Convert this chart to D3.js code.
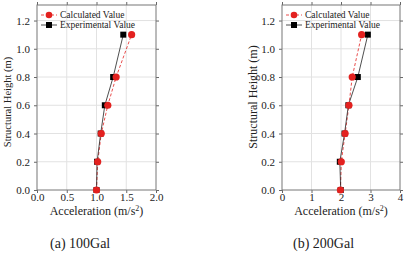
<html>
<head>
<meta charset="utf-8" />
<script src="https://cdn.jsdelivr.net/npm/d3@7"></script>
<style type="text/css">
	body{ margin:0; background:#fff; }
	svg text{ font-family:"Liberation Serif","Times New Roman",serif !important; fill:#222; }
</style>
</head>
<body>
<svg id="chart" width="409" height="259"></svg>

<script type="text/javascript">
	// heights (m)
	var heights = [0.0, 0.2, 0.4, 0.6, 0.8, 1.1];
	var yTicks = [0.0, 0.2, 0.4, 0.6, 0.8, 1.0, 1.2];

	// (a) 100Gal
	var calc100 = [1.00, 1.02, 1.08, 1.19, 1.33, 1.59];
	var exp100 = [1.00, 1.01, 1.07, 1.14, 1.28, 1.45];
	var xTicks100 = [0.0, 0.5, 1.0, 1.5, 2.0];

	// (b) 200Gal
	var calc200 = [1.98, 2.01, 2.14, 2.27, 2.38, 2.70];
	var exp200 = [1.99, 1.96, 2.12, 2.25, 2.57, 2.91];
	var xTicks200 = [0, 1, 2, 3, 4];

	var legendNames = ["Calculated Value", "Experimental Value"];
	var red = "#e3211f";

	var svg = d3.select("#chart");

	function panel(opt){
		var x = d3.scaleLinear().domain(opt.xDomain).range([opt.left, opt.right]);
		var y = d3.scaleLinear().domain([0, 1.31]).range([190, 5]);
		var g = svg.append("g");

		// grid
		g.selectAll(".gx").data(opt.xTicks.slice(1, -1)).enter().append("line")
			.attr("x1", function(d){ return x(d); }).attr("x2", function(d){ return x(d); })
			.attr("y1", y(0)).attr("y2", 5)
			.attr("stroke", "#e2e2e2").attr("stroke-width", 1);
		g.selectAll(".gy").data(yTicks.slice(1)).enter().append("line")
			.attr("y1", function(d){ return y(d); }).attr("y2", function(d){ return y(d); })
			.attr("x1", opt.left).attr("x2", opt.right)
			.attr("stroke", "#e2e2e2").attr("stroke-width", 1);

		// axes
		var ax = g.append("g").attr("transform", "translate(0,190)")
			.call(d3.axisBottom(x).tickValues(opt.xTicks).tickFormat(d3.format(opt.xFmt)).tickSizeInner(3).tickSizeOuter(0));
		var ay = g.append("g").attr("transform", "translate(" + opt.left + ",0)")
			.call(d3.axisLeft(y).tickValues(yTicks).tickFormat(d3.format(".1f")).tickSizeInner(3).tickSizeOuter(0));
		g.append("g").attr("transform", "translate(0,5)")
			.call(d3.axisTop(x).tickValues(opt.xTicks).tickFormat("").tickSizeInner(3).tickSizeOuter(0));
		g.append("g").attr("transform", "translate(" + opt.right + ",0)")
			.call(d3.axisRight(y).tickValues(yTicks).tickFormat("").tickSizeInner(3).tickSizeOuter(0));
		g.selectAll(".domain").remove();
		g.selectAll(".tick line").attr("stroke", "#666");
		[ax, ay].forEach(function(a){
			a.selectAll("text").attr("font-size", 11).attr("fill", "#222");
		});
		ax.selectAll("text").attr("y", 11).attr("dy", 0);
		ay.selectAll("text").attr("dx", "-1px");

		g.append("rect").attr("x", opt.left).attr("y", 5)
			.attr("width", opt.right - opt.left).attr("height", 185)
			.attr("fill", "none").attr("stroke", "#777").attr("stroke-width", 1);

		// lines
		var line = d3.line()
			.x(function(d){ return x(d[0]); })
			.y(function(d){ return y(d[1]); });
		var cPts = d3.zip(opt.calc, heights);
		var ePts = d3.zip(opt.exp, heights);
		g.append("path").datum(cPts).attr("d", line)
			.attr("fill", "none").attr("stroke", red).attr("stroke-width", 0.8).attr("stroke-dasharray", "3,2");
		g.append("path").datum(ePts).attr("d", line)
			.attr("fill", "none").attr("stroke", "#222").attr("stroke-width", 0.8);

		g.selectAll(".sq").data(ePts).enter().append("rect")
			.attr("x", function(d){ return x(d[0]) - 3; })
			.attr("y", function(d){ return y(d[1]) - 3; })
			.attr("width", 6).attr("height", 6).attr("fill", "#000");
		g.selectAll(".ci").data(cPts).enter().append("circle")
			.attr("cx", function(d){ return x(d[0]); })
			.attr("cy", function(d){ return y(d[1]); })
			.attr("r", 3.6).attr("fill", red);

		// legend
		var lx = opt.left + 4;
		g.append("line").attr("x1", lx).attr("x2", lx + 16).attr("y1", 15).attr("y2", 15)
			.attr("stroke", red).attr("stroke-width", 0.8).attr("stroke-dasharray", "3,2");
		g.append("circle").attr("cx", lx + 8).attr("cy", 15).attr("r", 3.3).attr("fill", red);
		g.append("line").attr("x1", lx).attr("x2", lx + 16).attr("y1", 25).attr("y2", 25)
			.attr("stroke", "#222").attr("stroke-width", 0.8);
		g.append("rect").attr("x", lx + 5).attr("y", 22).attr("width", 6).attr("height", 6).attr("fill", "#000");
		g.selectAll(".lg").data(legendNames).enter().append("text")
			.attr("x", lx + 19).attr("y", function(d, i){ return 15 + i * 10; })
			.attr("dy", "0.33em").attr("font-size", 9.5)
			.text(function(d){ return d; });

		// titles
		var xt = g.append("text").attr("x", (opt.left + opt.right) / 2).attr("y", 215)
			.attr("text-anchor", "middle").attr("font-size", 12);
		xt.append("tspan").text("Acceleration (m/s");
		xt.append("tspan").attr("baseline-shift", "super").attr("font-size", 8).text("2");
		xt.append("tspan").text(")");

		g.append("text")
			.attr("transform", "translate(" + opt.ytX + "," + opt.ytY + ") rotate(-90)")
			.attr("text-anchor", "middle").attr("dy", "0.35em")
			.attr("font-size", opt.ytSize)
			.text("Structural Height (m)");

		g.append("text").attr("x", opt.capX).attr("y", 248)
			.attr("font-size", 14).attr("fill", "#111")
			.text(opt.caption);
	}

	panel({ left:37, right:156, xDomain:[0, 2], xTicks:xTicks100, xFmt:".1f",
		calc:calc100, exp:exp100, ytX:7, ytY:102, ytSize:10.5, capX:50, caption:"(a) 100Gal" });
	panel({ left:282, right:400, xDomain:[0, 4], xTicks:xTicks200, xFmt:"d",
		calc:calc200, exp:exp200, ytX:253, ytY:97, ytSize:12, capX:293, caption:"(b) 200Gal" });
</script>
</body>
</html>
